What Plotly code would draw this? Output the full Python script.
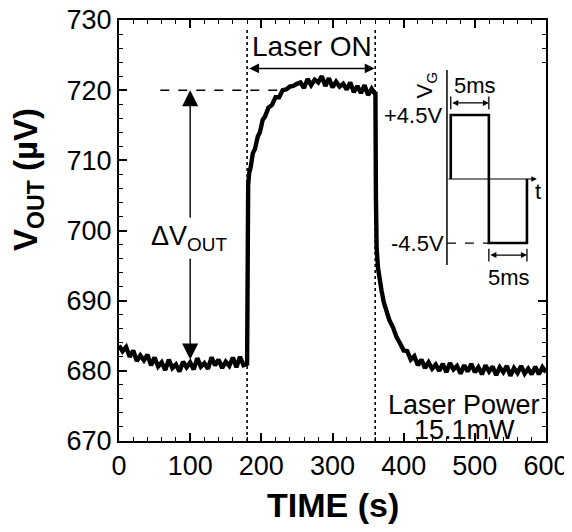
import plotly.graph_objects as go

# ---------------- data ----------------
time_s = [0, 5, 10, 15, 20, 25, 30, 35, 40, 45, 50, 55, 60, 65, 70, 75, 80, 85, 90, 95,
          100, 105, 110, 115, 120, 125, 130, 135, 140, 145, 150, 155, 160, 165, 170, 175, 180,
          180.6, 181.5, 183, 185, 188, 191, 195, 198, 202, 205, 210, 215, 220, 225, 230, 235,
          240, 245, 250, 255, 260, 265, 270, 275, 280, 285, 290, 295, 300, 305, 310, 315, 320,
          325, 330, 335, 340, 345, 350, 355, 359.5,
          360.3, 361, 362, 364, 366, 369, 372, 376, 380, 385, 390, 395, 400, 405, 410, 415, 420,
          425, 430, 435, 440, 445, 450, 455, 460, 465, 470, 475, 480, 485, 490, 495, 500, 505,
          510, 515, 520, 525, 530, 535, 540, 545, 550, 555, 560, 565, 570, 575, 580, 585, 590,
          595, 600]
vout_uv = [683.6, 682.8, 683.4, 682.0, 682.9, 681.4, 682.2, 681.5, 682.3, 680.8, 681.9, 680.6,
           681.2, 680.1, 681.6, 680.4, 680.9, 679.9, 681.3, 680.5, 681.2, 680.2, 681.8, 680.6,
           681.1, 680.3, 681.9, 680.8, 681.6, 680.4, 681.3, 680.7, 681.9, 680.5, 682.0, 680.8, 681.0,
           704.0, 706.5, 708.2, 709.0, 711.0, 711.6, 713.4, 714.0, 715.8, 716.2, 717.5, 717.9,
           719.0, 719.0, 720.0, 720.1, 720.5, 720.6, 720.9, 721.1, 720.3, 721.6, 720.7, 721.5,
           721.1, 722.0, 720.6, 721.7, 720.4, 721.2, 720.5, 720.9, 720.1, 721.1, 719.7, 720.6,
           719.6, 720.7, 719.3, 720.2, 719.5, 719.8,
           705.0, 697.5, 694.6, 692.8, 691.4, 689.8, 688.6, 687.2, 686.2, 684.8, 683.9, 682.9,
           682.8, 681.6, 682.1, 680.8, 681.6, 680.4, 681.2, 680.3, 680.9, 680.0, 681.0, 679.8,
           681.1, 680.2, 680.7, 679.6, 680.8, 679.9, 681.0, 679.8, 680.5, 679.5, 680.8, 679.9,
           680.6, 679.4, 680.5, 679.8, 680.7, 679.3, 680.4, 679.7, 680.7, 679.6, 680.3, 679.5,
           680.6, 679.5, 680.5, 679.8, 680.8]

laser_on_s = [180, 360]          # laser switched on / off
delta_top_uv = 720               # plateau level (dashed guide)
delta_bottom_uv = 681.6          # baseline level at the arrow

# inset: gate-voltage square wave
gate_t_ms = [0, 0, 5, 5, 10, 10]
gate_v = [0, 4.5, 4.5, -4.5, -4.5, 0]
gate_amp_v = 4.5
half_period_ms = 5

x_ticks = [0, 100, 200, 300, 400, 500, 600]
y_ticks = [670, 680, 690, 700, 710, 720, 730]

FONT = "Liberation Sans, Arial, sans-serif"

fig = go.Figure()

# main trace
fig.add_trace(go.Scatter(x=time_s, y=vout_uv, mode="lines",
                         line=dict(color="black", width=4.4), showlegend=False))

# dotted laser on/off guides
for t in laser_on_s:
    fig.add_trace(go.Scatter(x=[t, t], y=[670, 728.6], mode="lines",
                             line=dict(color="black", width=1.6, dash="dot"), showlegend=False))

# dashed 720 guide
fig.add_trace(go.Scatter(x=[58, 230], y=[delta_top_uv, delta_top_uv], mode="lines",
                         line=dict(color="black", width=1.5, dash="dash"), showlegend=False))

# inset axes lines and square wave
fig.add_trace(go.Scatter(x=[-0.5, -0.5], y=[-6.05, 7.66], mode="lines", xaxis="x2", yaxis="y2",
                         line=dict(color="black", width=1.5), showlegend=False))
fig.add_trace(go.Scatter(x=gate_t_ms, y=gate_v, mode="lines", xaxis="x2", yaxis="y2",
                         line=dict(color="black", width=2.6), showlegend=False))
fig.add_trace(go.Scatter(x=[-0.5, half_period_ms], y=[-gate_amp_v, -gate_amp_v], mode="lines",
                         xaxis="x2", yaxis="y2",
                         line=dict(color="black", width=1.2, dash="dash"), showlegend=False))
# end bars of the 5 ms dimension arrows
for xs, ys in [([0, 0], [4.9, 5.8]), ([5, 5], [4.9, 5.8]),
               ([5, 5], [-4.9, -5.8]), ([10, 10], [-4.9, -5.8])]:
    fig.add_trace(go.Scatter(x=xs, y=ys, mode="lines", xaxis="x2", yaxis="y2",
                             line=dict(color="black", width=1.3), showlegend=False))

ann = []
# Laser ON
ann.append(dict(x=271, y=726.2, xref="x", yref="y", text="Laser ON", showarrow=False,
                font=dict(size=28, family=FONT, color="black")))
ann.append(dict(x=laser_on_s[1] - 1, y=723.1, ax=laser_on_s[0] + 1, ay=723.1, xref="x", yref="y",
                axref="x", ayref="y", text="", showarrow=True, arrowside="end+start",
                arrowhead=2, startarrowhead=2, arrowsize=1.3, startarrowsize=1.3,
                arrowwidth=1.5, arrowcolor="black"))
# Delta V_OUT arrows
ann.append(dict(x=100, y=delta_top_uv, ax=100, ay=701.6, xref="x", yref="y",
                axref="x", ayref="y", text="", showarrow=True, arrowhead=2,
                arrowsize=2.3, arrowwidth=1.4, arrowcolor="black"))
ann.append(dict(x=100, y=delta_bottom_uv, ax=100, ay=696.2, xref="x", yref="y",
                axref="x", ayref="y", text="", showarrow=True, arrowhead=2,
                arrowsize=2.3, arrowwidth=1.4, arrowcolor="black"))
ann.append(dict(x=99, y=699.0, xref="x", yref="y", text="ΔV<sub>OUT</sub>", showarrow=False,
                font=dict(size=27, family=FONT, color="black")))
# Laser power
ann.append(dict(x=485, y=675.2, xref="x", yref="y", text="Laser Power", showarrow=False,
                font=dict(size=27, family=FONT, color="black")))
ann.append(dict(x=486, y=671.5, xref="x", yref="y", text="15.1mW", showarrow=False,
                font=dict(size=27, family=FONT, color="black")))

# inset annotations
IF = dict(size=22, family=FONT, color="black")
ann.append(dict(x=11.3, y=0, ax=-0.5, ay=0, xref="x2", yref="y2", axref="x2", ayref="y2",
                text="", showarrow=True, arrowhead=2, arrowsize=1.0, arrowwidth=1.1,
                arrowcolor="black"))
ann.append(dict(x=half_period_ms, y=5.35, ax=0, ay=5.35, xref="x2", yref="y2", axref="x2",
                ayref="y2", text="", showarrow=True, arrowside="end+start", arrowhead=2,
                startarrowhead=2, arrowsize=1.0, arrowwidth=1.2, arrowcolor="black"))
ann.append(dict(x=2 * half_period_ms, y=-5.35, ax=half_period_ms, ay=-5.35, xref="x2", yref="y2",
                axref="x2", ayref="y2", text="", showarrow=True, arrowside="end+start",
                arrowhead=2, startarrowhead=2, arrowsize=1.0, arrowwidth=1.2, arrowcolor="black"))
ann.append(dict(x=3.2, y=6.6, xref="x2", yref="y2", text="5ms", showarrow=False, font=IF))
ann.append(dict(x=7.6, y=-6.95, xref="x2", yref="y2", text="5ms", showarrow=False, font=IF))
ann.append(dict(x=-0.95, y=gate_amp_v, xref="x2", yref="y2", text="+4.5V", showarrow=False,
                xanchor="right", font=IF))
ann.append(dict(x=-0.6, y=-gate_amp_v, xref="x2", yref="y2", text="-4.5V", showarrow=False,
                xanchor="right", font=IF))
ann.append(dict(x=11.5, y=-0.9, xref="x2", yref="y2", text="t", showarrow=False, font=IF))
ann.append(dict(x=-3.2, y=6.6, xref="x2", yref="y2", text="V<sub>G</sub>", showarrow=False,
                textangle=-90, font=IF))

# axis titles
ann.append(dict(x=0.5, y=-0.152, xref="paper", yref="paper", text="<b>TIME (s)</b>",
                showarrow=False, yanchor="middle",
                font=dict(size=34, family=FONT, color="black")))
ann.append(dict(x=-0.213, y=0.62, xref="paper", yref="paper", text="<b>V<sub>OUT</sub> (µV)</b>",
                showarrow=False, textangle=-90, xanchor="center", yanchor="middle",
                font=dict(size=33, family=FONT, color="black")))

axis_common = dict(showgrid=False, zeroline=False, showline=True, linecolor="black",
                   linewidth=2, mirror="allticks", ticks="inside", ticklen=8, tickwidth=1.5,
                   tickcolor="black", automargin=False, ticklabeloverflow="allow",
                   tickfont=dict(size=27, family=FONT, color="black"))

# the page puts the figure 8 px in from the top-left corner; margins compensate for that
fig.update_layout(
    width=572, height=532,
    margin=dict(l=111, r=34, t=12, b=99, autoexpand=False),
    paper_bgcolor="white", plot_bgcolor="white",
    xaxis=dict(range=[0, 600], tickvals=x_ticks, ticktext=[str(v) for v in x_ticks],
               minor=dict(dtick=20, ticklen=4, tickwidth=1.2, tickcolor="black", ticks="inside"),
               **axis_common),
    yaxis=dict(range=[670, 730], tickvals=y_ticks, ticktext=[str(v) for v in y_ticks],
               minor=dict(dtick=2, ticklen=4, tickwidth=1.2, tickcolor="black", ticks="inside"),
               **axis_common),
    xaxis2=dict(domain=[0.7056, 1.0], range=[-4, 12.5], anchor="y2", visible=False),
    yaxis2=dict(domain=[0.352, 0.8926], range=[-8, 8], anchor="x2", visible=False),
    annotations=ann,
)

fig.write_html("out.html")
